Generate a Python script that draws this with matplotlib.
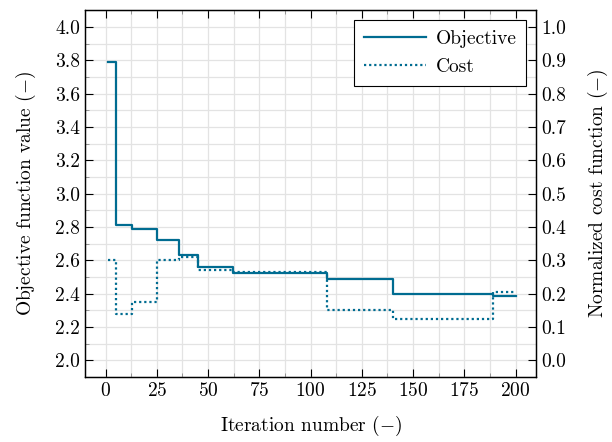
import numpy as np
import matplotlib
matplotlib.use("Agg")
import matplotlib.pyplot as plt
from matplotlib.ticker import MultipleLocator, FormatStrFormatter

plt.rcParams["font.family"] = "serif"
plt.rcParams["font.serif"] = ["cmr10", "DejaVu Serif"]
plt.rcParams["mathtext.fontset"] = "cm"
plt.rcParams["axes.formatter.use_mathtext"] = True

# step change points (iteration) and values
obj_iter = [1, 5, 13, 25, 36, 45, 62, 108, 140, 189, 200]
obj_val = [3.79, 2.81, 2.79, 2.72, 2.63, 2.56, 2.525, 2.485, 2.395, 2.385, 2.385]

cost_iter = [1, 5, 13, 25, 36, 45, 62, 108, 140, 189, 200]
cost_val = [0.30, 0.14, 0.175, 0.30, 0.31, 0.272, 0.264, 0.15, 0.125, 0.205, 0.205]

color = "#006c91"
fs = 14

fig, ax = plt.subplots(figsize=(6.12, 4.42), dpi=100)
ax2 = ax.twinx()

l1, = ax.plot(obj_iter, obj_val, color=color, lw=1.6, drawstyle="steps-post", label="Objective")
l2, = ax2.plot(cost_iter, cost_val, color=color, lw=1.6, ls=(0, (1, 1.3)),
               drawstyle="steps-post", label="Cost")

ax.set_xlim(-10, 210)
ax.set_ylim(1.9, 4.1)
ax2.set_ylim(-0.05, 1.05)

ax.xaxis.set_major_locator(MultipleLocator(25))
ax.xaxis.set_minor_locator(MultipleLocator(12.5))
ax.yaxis.set_major_locator(MultipleLocator(0.2))
ax.yaxis.set_minor_locator(MultipleLocator(0.1))
ax2.yaxis.set_major_locator(MultipleLocator(0.1))
ax2.yaxis.set_minor_locator(MultipleLocator(0.05))

ax.grid(True, which="both", color="#e3e3e3", lw=0.9)
ax.set_axisbelow(True)

ax.tick_params(which="both", direction="in", top=True, labelsize=fs)
ax.tick_params(which="major", length=6)
ax.tick_params(which="minor", length=3, color="#888888")
ax2.tick_params(which="both", direction="in", labelsize=fs)
ax2.tick_params(which="major", length=6)
ax2.tick_params(which="minor", length=0)

ax.yaxis.set_major_formatter(FormatStrFormatter("%.1f"))
ax2.yaxis.set_major_formatter(FormatStrFormatter("%.1f"))

ax.set_xlabel(r"Iteration number ($-$)", fontsize=fs, labelpad=10)
ax.set_ylabel(r"Objective function value ($-$)", fontsize=fs, labelpad=12)
ax2.set_ylabel(r"Normalized cost function ($-$)", fontsize=fs, labelpad=14)

leg = ax2.legend(handles=[l1, l2], loc="upper right", fontsize=fs, fancybox=False,
                 framealpha=1, edgecolor="black", handlelength=3.2, borderpad=0.5,
                 labelspacing=0.55, handletextpad=0.5, borderaxespad=0.5)
leg.get_frame().set_linewidth(0.8)

for a in (ax, ax2):
    for s in a.spines.values():
        s.set_linewidth(0.9)

fig.subplots_adjust(left=0.139, right=0.876, top=0.977, bottom=0.147)
fig.savefig("out.png", dpi=100)
